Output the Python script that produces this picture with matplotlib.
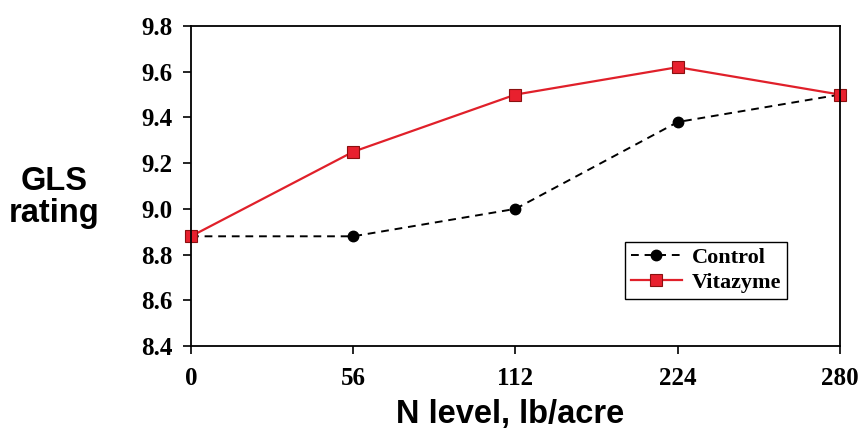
import matplotlib
matplotlib.use("Agg")
from matplotlib import pyplot as plt

n_levels = ['0', '56', '112', '224', '280']
control = [8.88, 8.88, 9.00, 9.38, 9.50]
vitazyme = [8.88, 9.25, 9.50, 9.62, 9.50]
y_ticks = [8.4, 8.6, 8.8, 9.0, 9.2, 9.4, 9.6, 9.8]

fig = plt.figure(figsize=(8.58, 4.33), dpi=100)
ax = fig.add_axes([0.2226, 0.2009, 0.7564, 0.739])

x = list(range(len(n_levels)))
ax.plot(x, control, color='black', linestyle=(0, (4, 3)), linewidth=1.4,
        marker='o', markersize=7.5, markerfacecolor='black', label='Control', clip_on=False)
ax.plot(x, vitazyme, color='#e0202a', linewidth=1.6,
        marker='s', markersize=8.5, markerfacecolor='#e8202e', markeredgecolor='#8a1010',
        markeredgewidth=0.8, label='Vitazyme', clip_on=False)

ax.set_xlim(0, len(n_levels) - 1)
ax.set_ylim(8.4, 9.8)
ax.set_xticks(x)
ax.set_xticklabels(n_levels)
ax.set_yticks(y_ticks)
ax.set_yticklabels(['%.1f' % v for v in y_ticks])

for lab in ax.get_xticklabels() + ax.get_yticklabels():
    lab.set_fontfamily('Liberation Serif')
    lab.set_fontweight('bold')
    lab.set_fontsize(18)
ax.tick_params(direction='out', length=6, width=1.2)
ax.tick_params(axis='y', pad=7)
ax.tick_params(axis='x', pad=9)
for s in ax.spines.values():
    s.set_linewidth(1.3)

# axis titles
fig.text(0.594, 0.023, 'N level, lb/acre', family='Liberation Sans', weight='bold',
         size=23.5, ha='center', va='baseline')
fig.text(0.063, 0.562, 'GLS', family='Liberation Sans', weight='bold', size=23.5,
         ha='center', va='baseline')
fig.text(0.063, 0.488, 'rating', family='Liberation Sans', weight='bold', size=23.5,
         ha='center', va='baseline')

leg = ax.legend(loc='upper left', bbox_to_anchor=(0.669, 0.325), borderaxespad=0,
                fancybox=False, edgecolor='black', framealpha=1, borderpad=0.25,
                handlelength=2.3, handletextpad=0.45, labelspacing=0.2,
                prop=dict(family='Liberation Serif', weight='bold', size=16))
leg.get_frame().set_linewidth(1.0)

fig.savefig('out.png', dpi=100)
